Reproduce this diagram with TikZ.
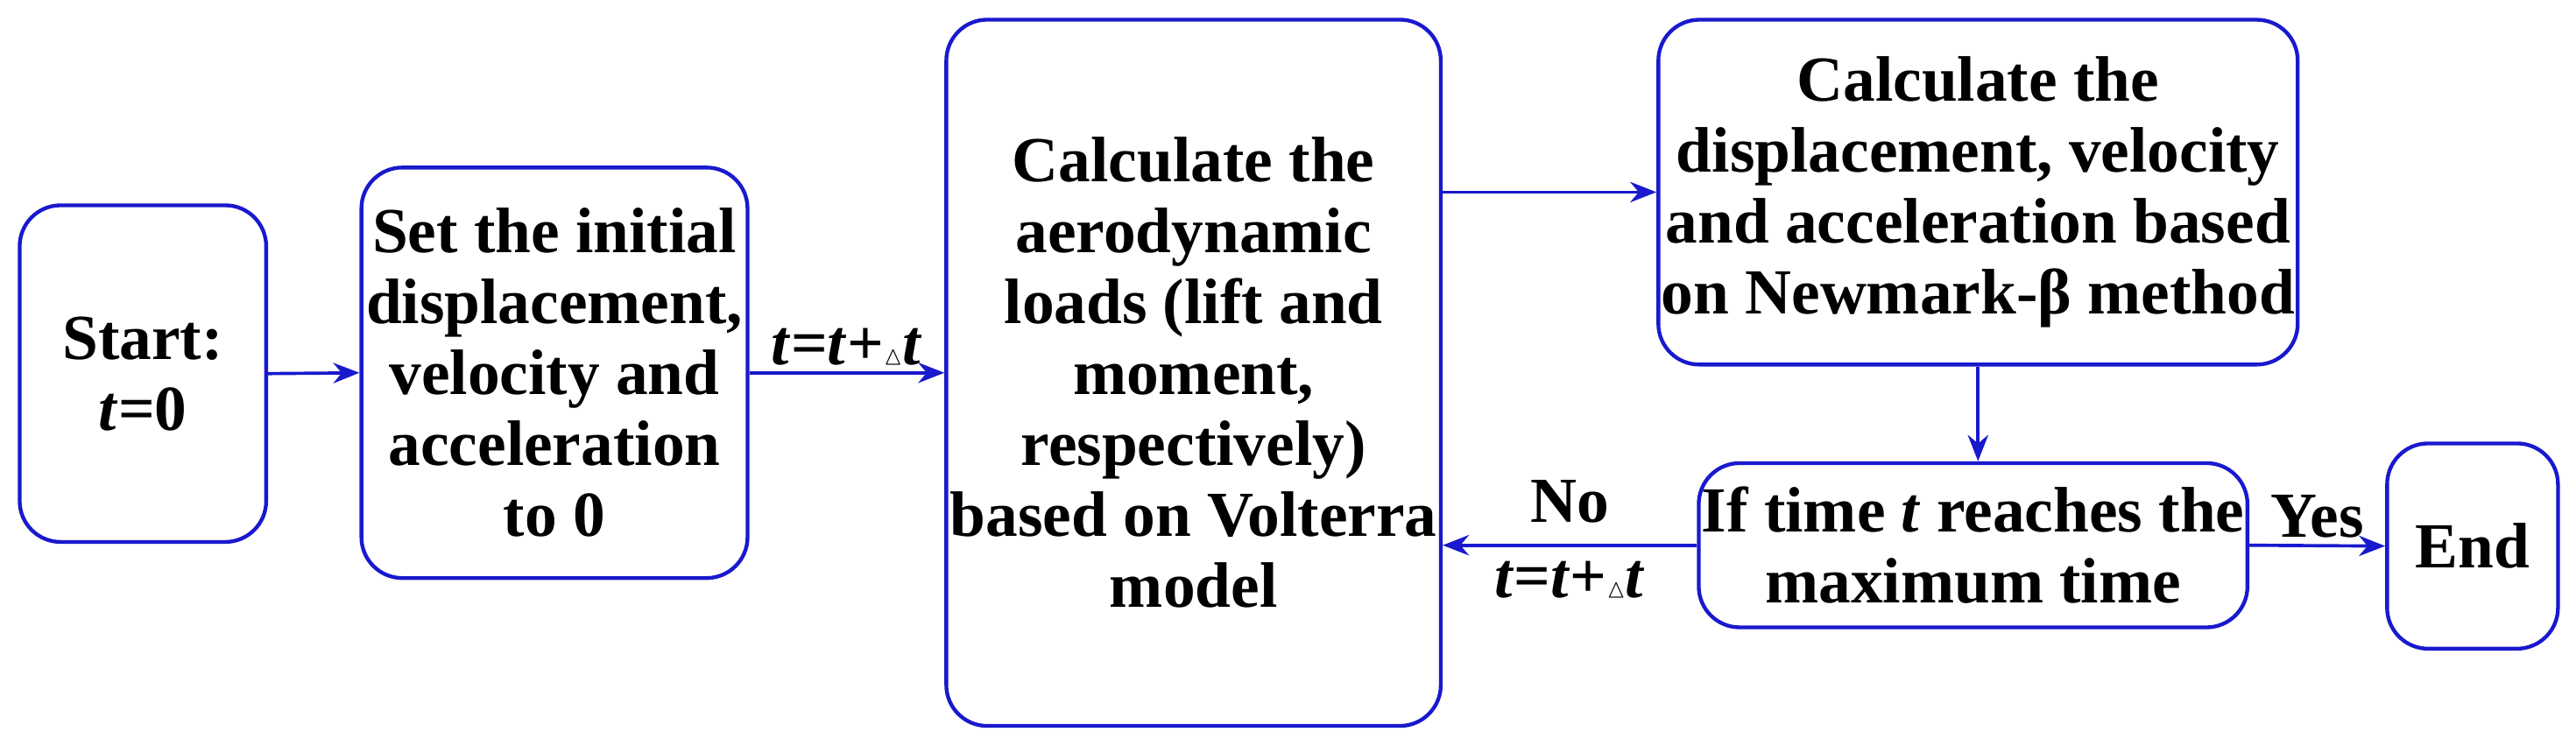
\documentclass[tikz,border=0pt]{standalone}
\usepackage{amssymb}
\usepackage{fontspec}
\setmainfont{Liberation Serif}
\usetikzlibrary{arrows.meta}
\definecolor{bl}{RGB}{25,25,205}
\begin{document}
\begin{tikzpicture}[x=0.5625pt,y=-0.5625pt,
 box/.style={draw=bl,line width=1.3pt,rounded corners=14pt,align=center,
   font=\fontsize{22}{24.3}\selectfont\bfseries,inner sep=1pt},
 arr/.style={draw=bl,line width=1.1pt,-{Stealth[length=9pt,width=7pt]}},
 lab/.style={font=\fontsize{22}{24.3}\selectfont\bfseries,inner sep=2pt}]
\useasboundingbox (0,0) rectangle (1568,458);
\node[box,minimum width=84.4pt,minimum height=115.3pt] (s) at (87,227.5) {Start:\\\textit{t}=0};
\node[box,minimum width=132.2pt,minimum height=140.6pt] (i) at (337.5,227) {Set the initial\\displacement,\\velocity and\\acceleration\\to 0};
\node[box,minimum width=169.3pt,minimum height=241.9pt] (c) at (726.5,227) {Calculate the\\aerodynamic\\loads (lift and\\moment,\\respectively)\\based on Volterra\\model};
\node[box,minimum width=216pt,minimum height=118.1pt] (n) at (1204,117) {Calculate the\\displacement, velocity\\and acceleration based\\on Newmark-β method};
\node[box,minimum width=186.75pt,minimum height=56.25pt] (f) at (1201,332) {If time \textit{t} reaches the\\maximum time};
\node[box,minimum width=58.5pt,minimum height=70.3pt] (e) at (1505,332.5) {End};
\draw[arr] (s.east) -- (i.west);
\draw[arr] (i.east) -- node[lab,above] (l1) {\textit{t}=\textit{t}+{\small$\vartriangle$}\textit{t}} (c.west);
\draw[arr] (n.west -| c.east) -- (n.west);
\draw[arr] (n.south) -- (n.south |- f.north);
\draw[arr] (f.west) -- node[lab,above=5pt] (l2) {No} node[lab,below=3pt] (l3) {\textit{t}=\textit{t}+{\small$\vartriangle$}\textit{t}} (f.west -| c.east);
\draw[arr] (f.east) -- node[lab,above] (l4) {Yes} (e.west);
\end{tikzpicture}
\end{document}
